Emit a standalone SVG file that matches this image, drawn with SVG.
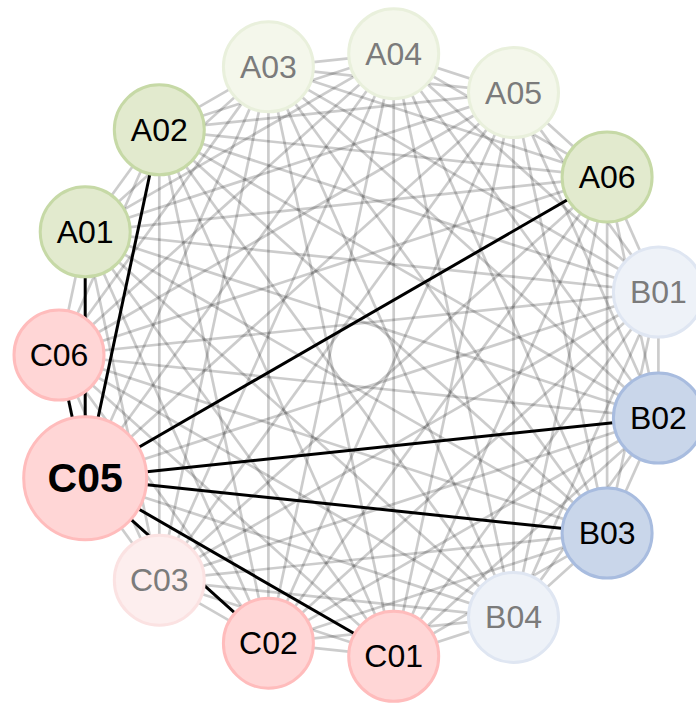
<svg xmlns="http://www.w3.org/2000/svg" width="696" height="703" viewBox="0 0 696 703">
<style>
.e{stroke:#000;stroke-opacity:0.2;stroke-width:2.7;fill:none}
.k{stroke:#000;stroke-width:3;fill:none}
.n circle{stroke-width:3}
.n text{font-family:"Liberation Sans",Arial,sans-serif;font-size:32px;text-anchor:middle;dominant-baseline:central;fill:#000}
.f text{fill:#7b7b7b}
.ca circle{fill:#e2eace;stroke:#c6d9a6}
.fa circle{fill:#f4f7eb;stroke:#e9f0dc}
.cb circle{fill:#c9d6ea;stroke:#a8bcdf}
.fb circle{fill:#eef2f8;stroke:#dfe6f2}
.cc circle{fill:#ffd6d6;stroke:#ffbcbc}
.fc circle{fill:#fdeeee;stroke:#fbe2e2}
</style>
<rect width="696" height="703" fill="#fff"/>
<g id="connectors">
<g id="edges-gray">
<line class="e" x1="393.7" y1="53.7" x2="513.5" y2="92.6"/>
<line class="e" x1="393.7" y1="53.7" x2="607.1" y2="176.9"/>
<line class="e" x1="393.7" y1="53.7" x2="658.4" y2="292"/>
<line class="e" x1="393.7" y1="53.7" x2="658.4" y2="418"/>
<line class="e" x1="393.7" y1="53.7" x2="607.1" y2="533.1"/>
<line class="e" x1="393.7" y1="53.7" x2="513.5" y2="617.4"/>
<line class="e" x1="393.7" y1="53.7" x2="393.7" y2="656.3"/>
<line class="e" x1="393.7" y1="53.7" x2="268.4" y2="643.2"/>
<line class="e" x1="393.7" y1="53.7" x2="159.3" y2="580.2"/>
<line class="e" x1="393.7" y1="53.7" x2="85.2" y2="478.2"/>
<line class="e" x1="393.7" y1="53.7" x2="59" y2="355"/>
<line class="e" x1="393.7" y1="53.7" x2="85.2" y2="231.8"/>
<line class="e" x1="393.7" y1="53.7" x2="159.3" y2="129.8"/>
<line class="e" x1="393.7" y1="53.7" x2="268.4" y2="66.8"/>
<line class="e" x1="513.5" y1="92.6" x2="607.1" y2="176.9"/>
<line class="e" x1="513.5" y1="92.6" x2="658.4" y2="292"/>
<line class="e" x1="513.5" y1="92.6" x2="658.4" y2="418"/>
<line class="e" x1="513.5" y1="92.6" x2="607.1" y2="533.1"/>
<line class="e" x1="513.5" y1="92.6" x2="513.5" y2="617.4"/>
<line class="e" x1="513.5" y1="92.6" x2="393.7" y2="656.3"/>
<line class="e" x1="513.5" y1="92.6" x2="268.4" y2="643.2"/>
<line class="e" x1="513.5" y1="92.6" x2="159.3" y2="580.2"/>
<line class="e" x1="513.5" y1="92.6" x2="85.2" y2="478.2"/>
<line class="e" x1="513.5" y1="92.6" x2="59" y2="355"/>
<line class="e" x1="513.5" y1="92.6" x2="85.2" y2="231.8"/>
<line class="e" x1="513.5" y1="92.6" x2="159.3" y2="129.8"/>
<line class="e" x1="513.5" y1="92.6" x2="268.4" y2="66.8"/>
<line class="e" x1="607.1" y1="176.9" x2="658.4" y2="292"/>
<line class="e" x1="607.1" y1="176.9" x2="658.4" y2="418"/>
<line class="e" x1="607.1" y1="176.9" x2="607.1" y2="533.1"/>
<line class="e" x1="607.1" y1="176.9" x2="513.5" y2="617.4"/>
<line class="e" x1="607.1" y1="176.9" x2="393.7" y2="656.3"/>
<line class="e" x1="607.1" y1="176.9" x2="268.4" y2="643.2"/>
<line class="e" x1="607.1" y1="176.9" x2="159.3" y2="580.2"/>
<line class="e" x1="607.1" y1="176.9" x2="59" y2="355"/>
<line class="e" x1="607.1" y1="176.9" x2="85.2" y2="231.8"/>
<line class="e" x1="607.1" y1="176.9" x2="159.3" y2="129.8"/>
<line class="e" x1="607.1" y1="176.9" x2="268.4" y2="66.8"/>
<line class="e" x1="658.4" y1="292" x2="658.4" y2="418"/>
<line class="e" x1="658.4" y1="292" x2="607.1" y2="533.1"/>
<line class="e" x1="658.4" y1="292" x2="513.5" y2="617.4"/>
<line class="e" x1="658.4" y1="292" x2="393.7" y2="656.3"/>
<line class="e" x1="658.4" y1="292" x2="268.4" y2="643.2"/>
<line class="e" x1="658.4" y1="292" x2="159.3" y2="580.2"/>
<line class="e" x1="658.4" y1="292" x2="85.2" y2="478.2"/>
<line class="e" x1="658.4" y1="292" x2="59" y2="355"/>
<line class="e" x1="658.4" y1="292" x2="85.2" y2="231.8"/>
<line class="e" x1="658.4" y1="292" x2="159.3" y2="129.8"/>
<line class="e" x1="658.4" y1="292" x2="268.4" y2="66.8"/>
<line class="e" x1="658.4" y1="418" x2="607.1" y2="533.1"/>
<line class="e" x1="658.4" y1="418" x2="513.5" y2="617.4"/>
<line class="e" x1="658.4" y1="418" x2="393.7" y2="656.3"/>
<line class="e" x1="658.4" y1="418" x2="268.4" y2="643.2"/>
<line class="e" x1="658.4" y1="418" x2="159.3" y2="580.2"/>
<line class="e" x1="658.4" y1="418" x2="59" y2="355"/>
<line class="e" x1="658.4" y1="418" x2="85.2" y2="231.8"/>
<line class="e" x1="658.4" y1="418" x2="159.3" y2="129.8"/>
<line class="e" x1="658.4" y1="418" x2="268.4" y2="66.8"/>
<line class="e" x1="607.1" y1="533.1" x2="513.5" y2="617.4"/>
<line class="e" x1="607.1" y1="533.1" x2="393.7" y2="656.3"/>
<line class="e" x1="607.1" y1="533.1" x2="268.4" y2="643.2"/>
<line class="e" x1="607.1" y1="533.1" x2="159.3" y2="580.2"/>
<line class="e" x1="607.1" y1="533.1" x2="59" y2="355"/>
<line class="e" x1="607.1" y1="533.1" x2="85.2" y2="231.8"/>
<line class="e" x1="607.1" y1="533.1" x2="159.3" y2="129.8"/>
<line class="e" x1="607.1" y1="533.1" x2="268.4" y2="66.8"/>
<line class="e" x1="513.5" y1="617.4" x2="393.7" y2="656.3"/>
<line class="e" x1="513.5" y1="617.4" x2="268.4" y2="643.2"/>
<line class="e" x1="513.5" y1="617.4" x2="159.3" y2="580.2"/>
<line class="e" x1="513.5" y1="617.4" x2="85.2" y2="478.2"/>
<line class="e" x1="513.5" y1="617.4" x2="59" y2="355"/>
<line class="e" x1="513.5" y1="617.4" x2="85.2" y2="231.8"/>
<line class="e" x1="513.5" y1="617.4" x2="159.3" y2="129.8"/>
<line class="e" x1="513.5" y1="617.4" x2="268.4" y2="66.8"/>
<line class="e" x1="393.7" y1="656.3" x2="268.4" y2="643.2"/>
<line class="e" x1="393.7" y1="656.3" x2="159.3" y2="580.2"/>
<line class="e" x1="393.7" y1="656.3" x2="59" y2="355"/>
<line class="e" x1="393.7" y1="656.3" x2="85.2" y2="231.8"/>
<line class="e" x1="393.7" y1="656.3" x2="159.3" y2="129.8"/>
<line class="e" x1="393.7" y1="656.3" x2="268.4" y2="66.8"/>
<line class="e" x1="268.4" y1="643.2" x2="159.3" y2="580.2"/>
<line class="e" x1="268.4" y1="643.2" x2="59" y2="355"/>
<line class="e" x1="268.4" y1="643.2" x2="85.2" y2="231.8"/>
<line class="e" x1="268.4" y1="643.2" x2="159.3" y2="129.8"/>
<line class="e" x1="268.4" y1="643.2" x2="268.4" y2="66.8"/>
<line class="e" x1="159.3" y1="580.2" x2="85.2" y2="478.2"/>
<line class="e" x1="159.3" y1="580.2" x2="59" y2="355"/>
<line class="e" x1="159.3" y1="580.2" x2="85.2" y2="231.8"/>
<line class="e" x1="159.3" y1="580.2" x2="159.3" y2="129.8"/>
<line class="e" x1="159.3" y1="580.2" x2="268.4" y2="66.8"/>
<line class="e" x1="85.2" y1="478.2" x2="268.4" y2="66.8"/>
<line class="e" x1="59" y1="355" x2="85.2" y2="231.8"/>
<line class="e" x1="59" y1="355" x2="159.3" y2="129.8"/>
<line class="e" x1="59" y1="355" x2="268.4" y2="66.8"/>
<line class="e" x1="85.2" y1="231.8" x2="159.3" y2="129.8"/>
<line class="e" x1="85.2" y1="231.8" x2="268.4" y2="66.8"/>
<line class="e" x1="159.3" y1="129.8" x2="268.4" y2="66.8"/>
</g>
<g id="edges-C05">
<line class="k" x1="85.2" y1="478.2" x2="607.1" y2="176.9"/>
<line class="k" x1="85.2" y1="478.2" x2="658.4" y2="418"/>
<line class="k" x1="85.2" y1="478.2" x2="607.1" y2="533.1"/>
<line class="k" x1="85.2" y1="478.2" x2="393.7" y2="656.3"/>
<line class="k" x1="85.2" y1="478.2" x2="268.4" y2="643.2"/>
<line class="k" x1="85.2" y1="478.2" x2="59" y2="355"/>
<line class="k" x1="85.2" y1="478.2" x2="85.2" y2="231.8"/>
<line class="k" x1="85.2" y1="478.2" x2="159.3" y2="129.8"/>
</g>
</g>
<g id="A04" class="n fa f"><circle cx="393.7" cy="53.7" r="45"/><text x="393.7" y="53.7">A04</text></g>
<g id="A05" class="n fa f"><circle cx="513.5" cy="92.6" r="45"/><text x="513.5" y="92.6">A05</text></g>
<g id="A06" class="n ca"><circle cx="607.1" cy="176.9" r="45"/><text x="607.1" y="176.9">A06</text></g>
<g id="B01" class="n fb f"><circle cx="658.4" cy="292" r="45"/><text x="658.4" y="292">B01</text></g>
<g id="B02" class="n cb"><circle cx="658.4" cy="418" r="45"/><text x="658.4" y="418">B02</text></g>
<g id="B03" class="n cb"><circle cx="607.1" cy="533.1" r="45"/><text x="607.1" y="533.1">B03</text></g>
<g id="B04" class="n fb f"><circle cx="513.5" cy="617.4" r="45"/><text x="513.5" y="617.4">B04</text></g>
<g id="C01" class="n cc"><circle cx="393.7" cy="656.3" r="45"/><text x="393.7" y="656.3">C01</text></g>
<g id="C02" class="n cc"><circle cx="268.4" cy="643.2" r="45"/><text x="268.4" y="643.2">C02</text></g>
<g id="C03" class="n fc f"><circle cx="159.3" cy="580.2" r="45"/><text x="159.3" y="580.2">C03</text></g>
<g id="C06" class="n cc"><circle cx="59" cy="355" r="45"/><text x="59" y="355">C06</text></g>
<g id="A01" class="n ca"><circle cx="85.2" cy="231.8" r="45"/><text x="85.2" y="231.8">A01</text></g>
<g id="A02" class="n ca"><circle cx="159.3" cy="129.8" r="45"/><text x="159.3" y="129.8">A02</text></g>
<g id="A03" class="n fa f"><circle cx="268.4" cy="66.8" r="45"/><text x="268.4" y="66.8">A03</text></g>
<g id="C05" class="n cc"><circle cx="85.2" cy="478.2" r="61.5"/><text x="85.2" y="478.2" style="font-weight:bold;font-size:41px">C05</text></g>
</svg>
